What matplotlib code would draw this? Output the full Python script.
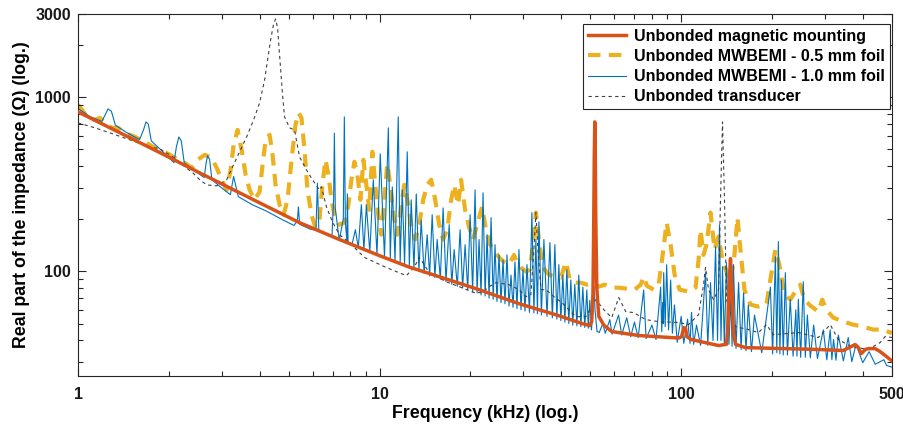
import numpy as np
import matplotlib
matplotlib.use("Agg")
import matplotlib.pyplot as plt
from matplotlib.ticker import FixedLocator, LogLocator, NullFormatter

# Real part of the impedance spectra (kHz, ohm)
freq_magnetic = [1.0, 1.867, 2.533, 4.0, 5.425, 7.36, 9.97, 12.45, 15.76, 21.37, 28.98, 39.3,
                 47.0, 49.77, 50.5, 51.0, 51.3, 51.5, 51.7, 51.9, 52.1, 52.5, 53.3, 55.4, 58.85,
                 72.3, 98.0, 100.3, 101.9, 103.4, 104.5, 108.0, 133.0, 141.3, 142.5, 144.0,
                 145.7, 147.3, 149.0, 151.4, 163.4, 221.5, 284.9, 344.6, 366.0, 377.6, 387.0,
                 395.3, 408.0, 416.9, 439.8, 456.8, 474.5, 500.0]
z_magnetic = [822, 480, 367, 247, 190, 152, 123, 106, 93, 78.3, 65.1, 55.5,
              50.0, 48.7, 51.3, 75, 200, 450, 720, 450, 200, 80, 55, 49, 45,
              42.7, 41.3, 42, 47.4, 47, 42, 40.5, 37.4, 38, 45, 80,
              118, 80, 45, 38, 36.4, 35.9, 35.5, 35.0, 36.9, 37.9, 36.4,
              33.6, 35.5, 35.9, 35.9, 34.5, 32.8, 30.5]

freq_foil05 = [1.0, 1.031, 1.079, 1.138, 1.182, 1.228, 1.296, 1.356, 1.43, 1.544, 1.666, 1.798,
               1.94, 2.094, 2.259, 2.384, 2.495, 2.631, 2.775, 2.883, 2.995, 3.111, 3.207, 3.281,
               3.382, 3.488, 3.596, 3.707, 3.851, 4.0, 4.093, 4.188, 4.318, 4.417, 4.519, 4.659,
               4.804, 4.952, 5.105, 5.262, 5.384, 5.508, 5.635, 5.766, 5.943, 6.127, 6.317, 6.464,
               6.613, 6.767, 6.923, 7.138, 7.36, 7.645, 7.881, 8.063, 8.249, 8.439, 8.636, 8.835,
               9.036, 9.245, 9.46, 9.678, 9.901, 10.13, 10.37, 10.6, 10.85, 11.1, 11.45, 11.8,
               12.07, 12.45, 12.73, 13.13, 13.53, 13.95, 14.38, 14.83, 15.29, 15.76, 16.24, 16.75,
               17.27, 17.67, 18.21, 18.63, 19.21, 19.81, 20.42, 21.05, 21.87, 22.54, 23.24, 23.96,
               24.89, 25.85, 26.85, 27.9, 28.54, 29.43, 30.57, 31.51, 32.23, 32.98, 33.75, 34.8,
               36.43, 38.13, 39.91, 41.45, 42.73, 44.39, 46.47, 48.66, 51.31, 53.33, 55.82, 58.41,
               62.09, 65.98, 70.13, 73.41, 75.1, 76.86, 81.06, 84.21, 86.81, 89.49, 92.26, 95.11,
               98.79, 105.8, 111.6, 114.2, 115.9, 118.6, 121.3, 125.1, 129.0, 133.0, 137.1, 141.3,
               145.7, 150.2, 153.7, 157.2, 162.1, 169.7, 180.4, 191.7, 197.6, 205.3, 211.6, 219.9,
               230.1, 240.9, 248.3, 256.0, 268.0, 284.9, 293.7, 302.7, 319.3, 344.6, 371.9, 401.4,
               433.1, 467.3, 500.0]
z_foil05 = [902, 844, 759, 740, 759, 711, 666, 666, 623, 591, 553, 511,
            485, 448, 419, 392, 436, 466, 448, 392, 335, 293, 382, 532,
            648, 498, 358, 293, 257, 286, 408, 568, 607, 466, 313, 241,
            211, 257, 436, 692, 811, 759, 498, 293, 211, 178, 197, 313,
            436, 358, 257, 197, 185, 190, 241, 335, 425, 358, 257, 436,
            313, 225, 485, 313, 211, 162, 257, 414, 313, 211, 162, 241,
            313, 241, 185, 152, 185, 257, 313, 335, 257, 185, 152, 173,
            257, 313, 241, 335, 225, 178, 152, 185, 234, 173, 142, 133,
            120, 113, 109, 124, 112, 105, 99.3, 102, 142, 217, 152, 105,
            95.5, 93, 91.8, 113, 89.4, 85.9, 85.9, 83.7, 85.9, 81.5, 83.7, 80.4,
            80.4, 79.4, 78.3, 83.7, 93, 82.6, 78.3, 83.7, 124, 190, 142, 95.5,
            78.3, 76.3, 80.4, 116, 173, 124, 142, 217, 133, 158, 116, 99.3,
            87, 124, 203, 133, 78.3, 64.3, 62.6, 64.3, 89.4, 133, 109, 73.3,
            68.6, 78.3, 83.7, 68.6, 63.4, 58.6, 68.6, 60.1, 54.1, 51.3, 49.3, 48,
            46.2, 46.2, 44.0]

freq_foil10 = [1.0, 1.1, 1.2, 1.23, 1.257, 1.29, 1.33, 1.45, 1.6, 1.65, 1.68, 1.71, 1.75, 1.9,
               2.08, 2.12, 2.16, 2.2, 2.25, 2.45, 2.62, 2.66, 2.69, 2.73, 2.78, 3.0, 3.2, 3.25,
               3.28, 3.32, 3.4, 3.8, 4.2, 4.7, 5.2, 5.34, 5.38, 5.43, 5.9, 6.15, 6.22, 6.29,
               6.6, 6.95, 7.04, 7.08, 7.13, 7.35, 7.58, 7.64, 7.7, 7.79, 7.82, 7.86, 8.1, 8.31,
               8.5, 8.7, 8.87, 9.04, 9.28, 9.53, 9.8, 10.05, 10.38, 10.69, 10.85, 11.02, 11.25,
               11.53, 11.7, 11.89, 12.1, 12.35, 12.55, 12.73, 13.0, 13.23, 13.5, 13.74, 14.05,
               14.38, 14.65, 14.94, 15.25, 15.52, 15.9, 16.24, 16.6, 17.01, 17.35, 17.67, 18.1,
               18.49, 18.85, 19.21, 19.6, 19.96, 20.35, 20.73, 21.05, 21.37, 21.7, 22.03, 22.38,
               22.72, 23.07, 23.42, 23.8, 24.14, 24.5, 24.89, 25.27, 25.66, 26.05, 26.45, 26.85,
               27.27, 27.7, 28.11, 28.55, 28.98, 29.43, 29.88, 30.35, 30.81, 31.4, 31.99, 32.48,
               32.98, 33.37, 33.75, 34.4, 35.06, 35.9, 36.71, 37.4, 38.13, 38.7, 39.3, 39.9,
               40.52, 41.15, 41.77, 42.4, 43.06, 43.7, 44.39, 45.1, 45.76, 46.5, 47.2, 47.9,
               48.66, 49.2, 49.77, 50.4, 51.0, 51.4, 51.8, 52.6, 53.5, 55.0, 56.0, 58.0, 59.0,
               62.0, 63.5, 66.0, 68.0, 70.0, 72.0, 75.1, 76.5, 80.0, 82.5, 85.5, 86.2, 86.8,
               87.2, 87.5, 88.5, 89.5, 90.8, 92.3, 93.5, 95.0, 97.0, 100.0, 102.0, 105.0, 107.0,
               108.2, 110.0, 112.4, 116.0, 120.4, 122.5, 125.1, 127.5, 130.0, 132.0, 134.0, 135.5,
               137.1, 139.0, 141.3, 144.0, 146.0, 147.5, 149.0, 152.0, 155.0, 158.0, 161.0, 164.0,
               167.0, 171.0, 175.0, 185.0, 197.6, 201.0, 205.3, 207.5, 210.0, 212.5, 215.0, 218.0,
               221.5, 225.0, 230.0, 235.0, 240.0, 242.0, 244.6, 249.0, 254.0, 258.0, 262.0, 268.0,
               275.0, 283.0, 296.0, 304.0, 312.0, 316.0, 320.0, 326.0, 332.0, 345.0, 358.0, 368.0,
               380.0, 400.0, 420.0, 440.0, 470.0, 480.0, 500.0]
z_foil10 = [860, 770, 725, 790, 855, 830, 690, 625, 570, 650, 720, 700, 560, 490,
            420, 520, 590, 560, 420, 375, 345, 420, 460, 440, 335, 300, 275, 320,
            350, 320, 268, 240, 222, 200, 183, 195, 234, 186, 174, 172, 320, 170,
            163, 158, 260, 620, 230, 150, 200, 770, 190, 150, 278, 147, 142, 173,
            136, 241, 132, 241, 128, 335, 124, 472, 120, 666, 118, 305, 114,
            770, 112, 293, 109, 485, 106, 257, 103, 278, 100, 197, 97,
            162, 94, 211, 92, 152, 90, 231, 87, 185, 84, 133, 82,
            173, 80, 142, 78, 211, 76, 293, 75, 152, 73, 282, 72,
            162, 70, 203, 69, 142, 67, 124, 66, 116, 65, 124, 63,
            95, 62, 113, 61, 133, 60, 102, 59, 109, 58, 217, 57.5,
            152, 57, 192, 56, 152, 55, 146, 54, 142, 53, 109, 52,
            95, 51, 102, 50, 89, 49, 84, 48.5, 95, 48, 81, 47.5,
            78, 47, 68, 46, 60, 81, 60, 45, 44.5, 50, 44, 52.7, 43.5,
            56, 43, 54, 42, 51, 41.5, 78, 41, 49, 40.5, 81, 45, 66,
            50, 98, 48, 109, 46, 89, 44, 64, 39, 55, 38.5, 53, 38.5,
            58, 38, 49, 37.5, 98, 37.5, 86, 40, 138, 40, 185, 40,
            106, 38, 112, 38, 70, 37, 109, 36, 86, 35.5, 75, 35,
            64, 34.5, 56, 34, 81, 33.5, 121, 34, 148, 33.5, 89, 33,
            98, 33, 69, 32.5, 60, 32.5, 69, 32, 87, 32, 56, 31.8,
            49, 31.5, 46, 31, 46, 31, 40.5, 30.8, 43, 30.5, 41.6, 30.2,
            38, 29.8, 34.5, 29.2, 31, 28.7, 28.1]

freq_transducer = [1.0, 1.138, 1.276, 1.486, 1.73, 1.867, 2.015, 2.126, 2.259, 2.402, 2.533, 2.672,
                   2.883, 3.111, 3.256, 3.435, 3.624, 3.822, 4.0, 4.156, 4.252, 4.351, 4.451, 4.519,
                   4.589, 4.659, 4.767, 4.84, 5.027, 5.222, 5.425, 5.722, 5.989, 6.317, 6.415, 6.664,
                   6.977, 7.36, 7.941, 8.903, 10.52, 12.26, 13.02, 13.53, 14.06, 14.6, 16.62, 18.35,
                   20.58, 21.87, 23.07, 24.32, 26.85, 28.98, 30.57, 31.75, 32.48, 32.98, 33.5, 34.27,
                   35.6, 37.84, 40.21, 44.73, 48.29, 52.1, 55.39, 58.85, 62.09, 65.49, 69.59, 76.27,
                   84.21, 98.04, 105.8, 114.2, 118.6, 120.4, 123.2, 128.0, 133.0, 135.0, 137.1, 139.2,
                   141.3, 151.4, 167.1, 180.4, 191.7, 202.2, 244.6, 284.9, 312.1, 331.7, 366.3, 416.9,
                   456.8, 474.5, 500.0]
z_transducer = [711, 666, 623, 568, 518, 504, 466, 436, 398, 367, 335, 313,
                309, 335, 398, 485, 591, 740, 926, 1254, 1634, 2128, 2628, 2808,
                2494, 1745, 1029, 770, 666, 648, 454, 382, 335, 293, 305, 234,
                192, 162, 146, 120, 105, 94.2, 105, 120, 109, 98, 87, 81.5,
                75.3, 75.3, 81.5, 85.9, 83.7, 78.3, 71.4, 73.3, 133, 217, 133, 78.3,
                78.3, 71.4, 66, 54.8, 54.8, 68.6, 60.1, 54.1, 70.5, 58.6, 57.8, 52.7,
                51.3, 50.7, 49.3, 56.3, 83.7, 105, 78.3, 68.6, 78.3, 257, 720, 257,
                68.6, 48, 46.2, 44.4, 49.3, 43.2, 44.4, 41.6, 49.3, 40.5, 36.9, 35.5,
                38.9, 42.1, 41.6]

x_ticks = [1, 10, 100, 500]
x_tick_labels = ["1", "10", "100", "500"]
y_ticks = [100, 1000, 3000]
y_tick_labels = ["100", "1000", "3000"]

plt.rcParams["font.family"] = ["Liberation Sans", "DejaVu Sans"]
plt.rcParams["font.weight"] = "bold"
plt.rcParams["axes.labelweight"] = "bold"

fig = plt.figure(figsize=(9.04, 4.30), dpi=100)
ax = fig.add_axes([0.0863, 0.1256, 0.9004, 0.8418])

l_foil05, = ax.plot(freq_foil05, z_foil05, color="#EDB120", lw=3, dashes=(3, 2), zorder=1,
                    label="Unbonded MWBEMI - 0.5 mm foil")
l_foil10, = ax.plot(freq_foil10, z_foil10, color="#0072BD", lw=0.8, zorder=2,
                    label="Unbonded MWBEMI - 1.0 mm foil")
l_trans, = ax.plot(freq_transducer, z_transducer, color="#404040", lw=0.8, dashes=(3, 3), zorder=3,
                   label="Unbonded transducer")
l_mag, = ax.plot(freq_magnetic, z_magnetic, color="#D95319", lw=2.5, zorder=4,
                 label="Unbonded magnetic mounting")

ax.set_xscale("log")
ax.set_yscale("log")
ax.set_xlim(1, 500)
ax.set_ylim(25, 3000)

ax.xaxis.set_major_locator(FixedLocator(x_ticks))
ax.set_xticklabels(x_tick_labels)
ax.yaxis.set_major_locator(FixedLocator(y_ticks))
ax.set_yticklabels(y_tick_labels)
for axis in (ax.xaxis, ax.yaxis):
    axis.set_minor_locator(LogLocator(base=10, subs=np.arange(2, 10)))
    axis.set_minor_formatter(NullFormatter())

ax.tick_params(which="both", direction="in", top=True, right=True, color="#262626",
               labelcolor="#1a1a1a", labelsize=11.5, width=0.8)
ax.tick_params(which="major", length=6)
ax.tick_params(which="minor", length=3.5)
ax.tick_params(axis="x", pad=8)
ax.tick_params(axis="y", pad=5)
for sp in ax.spines.values():
    sp.set_color("#262626")
    sp.set_linewidth(0.8)

ax.set_xlabel("Frequency (kHz) (log.)", fontsize=12.8, labelpad=2)
ax.set_ylabel("Real part of the impedance (\u03a9) (log.)", fontsize=12.8, labelpad=4)

leg = ax.legend(handles=[l_mag, l_foil05, l_foil10, l_trans], loc="upper right",
                bbox_to_anchor=(0.9975, 0.972), borderaxespad=0, fancybox=False,
                edgecolor="#262626", framealpha=1, fontsize=11.5, handlelength=2.4,
                labelspacing=0.32, borderpad=0.3, handletextpad=0.5)
leg.get_frame().set_linewidth(0.8)

fig.savefig("out.png", dpi=100)
